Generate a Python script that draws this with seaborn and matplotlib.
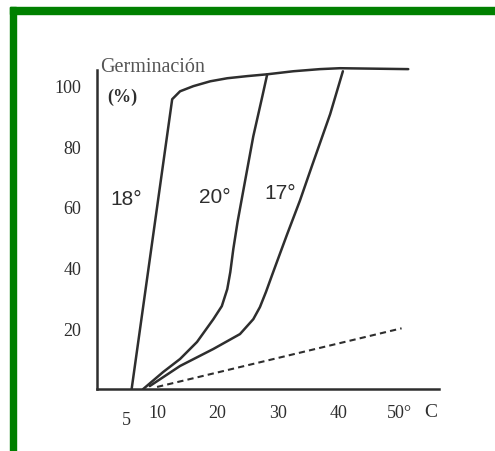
import matplotlib
matplotlib.use('Agg')
import matplotlib.pyplot as plt
import matplotlib.transforms as mtransforms
import seaborn as sns
import numpy as np
import pandas as pd
from matplotlib.patches import Rectangle

# Curves (temperature in C, germination in %)
t18 = [5.8, 12.5, 13.8, 16.0, 18.8, 21.6, 24.9, 28.2, 32.5, 36.9, 40.2, 51.5]
g18 = [0, 95.4, 98.0, 99.7, 101.3, 102.3, 103.0, 103.6, 104.6, 105.3, 105.6, 105.3]

t20 = [7.7, 11.0, 13.8, 16.6, 19.3, 20.7, 21.6, 22.1, 22.6, 23.3, 24.2, 25.9, 27.4, 28.2]
g20 = [0, 5.6, 9.9, 15.5, 23.0, 27.3, 32.9, 38.5, 46.1, 55.0, 64.8, 83.2, 96.4, 103.6]

t17 = [8.8, 13.8, 19.3, 23.7, 25.9, 27.0, 28.0, 29.0, 30.2, 31.5, 33.6, 35.6, 38.6, 40.7]
g17 = [1.0, 7.6, 13.2, 18.1, 23.0, 27.0, 32.0, 37.5, 44.0, 51.0, 62.0, 73.5, 90.5, 104.6]

t_dash = [10.0, 50.4]
g_dash = [0.7, 20.0]

x_ticks = [5, 10, 20, 30, 40, 50]
x_labels = ['5', '10', '20', '30', '40', '50°']
y_ticks = [20, 40, 60, 80, 100]

curve_labels = ['18°', '20°', '17°']
label_x = [4.9, 19.6, 30.3]
label_y = [62.8, 63.5, 64.8]

sns.set_style('white')
plt.rcParams['font.family'] = ['Liberation Serif', 'DejaVu Serif']

ink = '#2e2e2e'
df = pd.concat([
    pd.DataFrame({'t': t18, 'g': g18, 'curve': '18'}),
    pd.DataFrame({'t': t20, 'g': g20, 'curve': '20'}),
    pd.DataFrame({'t': t17, 'g': g17, 'curve': '17'}),
])

fig = plt.figure(figsize=(4.95, 4.52), dpi=100)
ax = fig.add_axes([0.195, 0.137, 0.697, 0.726])

sns.lineplot(data=df, x='t', y='g', units='curve', estimator=None, sort=False,
             color=ink, linewidth=1.8, ax=ax)
sns.lineplot(x=t_dash, y=g_dash, sort=False, color=ink, linewidth=1.5,
             linestyle=(0, (3, 2)), ax=ax)

ax.set_xlim(0, 57)
ax.set_ylim(0, 108)
ax.set_xlabel('')
ax.set_ylabel('')

for s in ['top', 'right']:
    ax.spines[s].set_visible(False)
for s in ['left', 'bottom']:
    ax.spines[s].set_color(ink)
    ax.spines[s].set_linewidth(1.8)
ax.spines['left'].set_bounds(0, 105)
ax.spines['bottom'].set_bounds(0, 56.5)

ax.set_xticks(x_ticks)
ax.set_xticklabels(x_labels)
ax.set_yticks(y_ticks)
ax.tick_params(axis='x', direction='in', length=3, width=1, colors=ink,
               labelsize=13, pad=11)
ax.tick_params(axis='y', direction='out', length=3, width=1, colors=ink,
               labelsize=13, pad=8)

# the "5" sits a little lower than the other labels
for lab in ax.get_xticklabels():
    if lab.get_text() == '5':
        lab.set_transform(lab.get_transform() +
                          mtransforms.ScaledTranslation(0, -4.5 / 72, fig.dpi_scale_trans))

ax.text(55.2, -7.3, 'C', fontsize=14, color=ink, ha='center', va='center')

ax.text(0.6, 106.2, 'Germinación', fontsize=14.5, color='#555555',
        ha='left', va='center')
ax.text(1.7, 96.4, '(%)', fontsize=13, color=ink, ha='left', va='center',
        fontweight='bold')

for lab, lx, ly in zip(curve_labels, label_x, label_y):
    ax.text(lx, ly, lab, fontsize=15, color=ink, ha='center', va='center',
            family=['Liberation Sans', 'DejaVu Sans'])

# green frame around the picture (top and left edges only)
fig.patches.append(Rectangle((10 / 495, 0), 6 / 495, (452 - 8) / 452,
                             transform=fig.transFigure, color='#008000'))
fig.patches.append(Rectangle((10 / 495, (452 - 15) / 452), 485 / 495, 7 / 452,
                             transform=fig.transFigure, color='#008000'))

fig.savefig('out.png', dpi=100)
